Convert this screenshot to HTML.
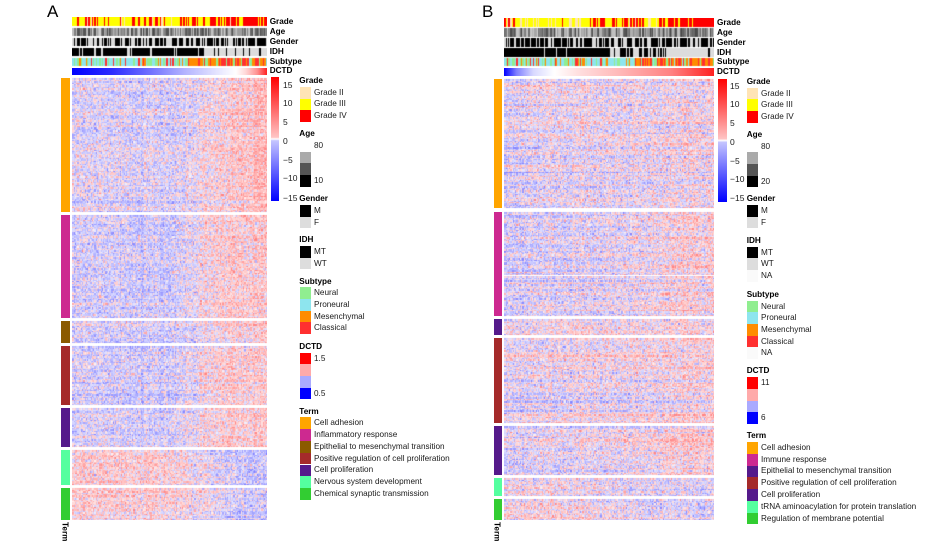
<!DOCTYPE html>
<html><head><meta charset="utf-8">
<style>
html,body{margin:0;padding:0;background:#fff;}
body{width:948px;height:553px;position:relative;overflow:hidden;font-family:"Liberation Sans",Arial,sans-serif;}
.a{position:absolute;}
.t{position:absolute;font-size:8.2px;line-height:10px;color:#1a1a1a;white-space:nowrap;}
.b{font-weight:bold;color:#000;}
.k{position:absolute;font-size:8.5px;line-height:10px;color:#1a1a1a;white-space:nowrap;}
.fa{position:absolute;left:72px;width:195px;background:linear-gradient(to right,#c4c4fc 0%,#c4c4fc 58%,#f6c0c6 78%,#ffb4b4 100%);}
.fa2{position:absolute;left:72px;width:195px;background:linear-gradient(to right,#ffc0c0 0%,#f8c4cc 55%,#c4c4fc 80%,#b8b8ff 100%);}
.fb{position:absolute;left:504px;width:210px;background:linear-gradient(to right,#c8c8fa 0%,#d8ccf0 60%,#f2c4cc 100%);}
</style></head><body>

<div class="a" style="left:47px;top:1.5px;font-size:17px;line-height:20px;">A</div>
<div class="a" style="left:482px;top:1.5px;font-size:17px;line-height:20px;">B</div>

<!-- ============ PANEL A ============ -->
<div class="fa" style="top:78px;height:134px"></div>
<div class="fa" style="top:215px;height:103px"></div>
<div class="fa" style="top:321px;height:22px"></div>
<div class="fa" style="top:346px;height:59px"></div>
<div class="fa" style="top:408px;height:39px"></div>
<div class="fa2" style="top:450px;height:35px"></div>
<div class="fa2" style="top:488px;height:32px"></div>
<canvas id="ca" class="a" width="195" height="503" style="left:72px;top:17px;width:195px;height:503px;"></canvas>
<div class="a" style="left:72px;top:67.7px;width:195px;height:7.5px;background:linear-gradient(to right,#0000ff 0%,#2a2aff 20%,#7070ff 40%,#b4b4ff 58%,#e6e6ff 75%,#ffffff 84%,#ffd8d8 89%,#ff9090 95%,#ff2020 100%);"></div>

<div class="t b" style="left:269.7px;top:16.5px;">Grade</div>
<div class="t b" style="left:269.7px;top:26.8px;">Age</div>
<div class="t b" style="left:269.7px;top:36.8px;">Gender</div>
<div class="t b" style="left:269.7px;top:46.8px;">IDH</div>
<div class="t b" style="left:269.7px;top:56.7px;">Subtype</div>
<div class="t b" style="left:269.7px;top:66.3px;">DCTD</div>

<div class="a" style="left:61px;top:78px;width:8.5px;height:134px;background:#ffa500"></div>
<div class="a" style="left:61px;top:215px;width:8.5px;height:103px;background:#cd2990"></div>
<div class="a" style="left:61px;top:321px;width:8.5px;height:22px;background:#8b5a00"></div>
<div class="a" style="left:61px;top:346px;width:8.5px;height:59px;background:#a52a2a"></div>
<div class="a" style="left:61px;top:408px;width:8.5px;height:39px;background:#551a8b"></div>
<div class="a" style="left:61px;top:450px;width:8.5px;height:35px;background:#54ff9f"></div>
<div class="a" style="left:61px;top:488px;width:8.5px;height:32px;background:#32cd32"></div>
<div class="a" style="left:60.5px;top:521.5px;font-size:8.2px;font-weight:bold;line-height:8px;writing-mode:vertical-rl;">Term</div>

<div class="a" style="left:271px;top:77.3px;width:8px;height:123.4px;background:linear-gradient(to bottom,#ff0000 0%,#ffc4c4 48.6%,#ffffff 50%,#c4c4ff 51.4%,#0000ff 100%);"></div>
<div class="k" style="left:283px;top:80px;">15</div>
<div class="k" style="left:283px;top:98.3px;">10</div>
<div class="k" style="left:283px;top:117.3px;">5</div>
<div class="k" style="left:283px;top:136px;">0</div>
<div class="k" style="left:283px;top:154.5px;">−5</div>
<div class="k" style="left:283px;top:173.3px;">−10</div>
<div class="k" style="left:283px;top:192.7px;">−15</div>

<div class="t b" style="left:299.3px;top:76px;">Grade</div>
<div class="a" style="left:299.5px;top:87.3px;width:11.5px;height:11.4px;background:#ffe4b5"></div>
<div class="a" style="left:299.5px;top:98.7px;width:11.5px;height:11.4px;background:#ffff00"></div>
<div class="a" style="left:299.5px;top:110px;width:11.5px;height:11.7px;background:#ff0000"></div>
<div class="t" style="left:314px;top:88px;">Grade II</div>
<div class="t" style="left:314px;top:99.3px;">Grade III</div>
<div class="t" style="left:314px;top:111px;">Grade IV</div>

<div class="t b" style="left:299.3px;top:129px;">Age</div>
<div class="t" style="left:314px;top:141px;">80</div>
<div class="a" style="left:299.5px;top:151.7px;width:11.5px;height:11.6px;background:#aaaaaa"></div>
<div class="a" style="left:299.5px;top:163.3px;width:11.5px;height:11.7px;background:#555555"></div>
<div class="a" style="left:299.5px;top:175px;width:11.5px;height:11.7px;background:#000000"></div>
<div class="t" style="left:314px;top:176px;">10</div>

<div class="t b" style="left:299.3px;top:194px;">Gender</div>
<div class="a" style="left:299.5px;top:205px;width:11.5px;height:11.7px;background:#000"></div>
<div class="a" style="left:299.5px;top:216.7px;width:11.5px;height:11.6px;background:#dddddd"></div>
<div class="t" style="left:314px;top:206px;">M</div>
<div class="t" style="left:314px;top:217.5px;">F</div>

<div class="t b" style="left:299.3px;top:235px;">IDH</div>
<div class="a" style="left:299.5px;top:246px;width:11.5px;height:11.7px;background:#000"></div>
<div class="a" style="left:299.5px;top:257.7px;width:11.5px;height:11.6px;background:#dddddd"></div>
<div class="t" style="left:314px;top:247px;">MT</div>
<div class="t" style="left:314px;top:258.5px;">WT</div>

<div class="t b" style="left:299.3px;top:276.7px;">Subtype</div>
<div class="a" style="left:299.5px;top:287.3px;width:11.5px;height:11.7px;background:#90ee90"></div>
<div class="a" style="left:299.5px;top:299px;width:11.5px;height:11.7px;background:#8ee5ee"></div>
<div class="a" style="left:299.5px;top:310.7px;width:11.5px;height:11.6px;background:#ff8c00"></div>
<div class="a" style="left:299.5px;top:322.3px;width:11.5px;height:11.7px;background:#ff3030"></div>
<div class="t" style="left:314px;top:288.2px;">Neural</div>
<div class="t" style="left:314px;top:299.8px;">Proneural</div>
<div class="t" style="left:314px;top:311.5px;">Mesenchymal</div>
<div class="t" style="left:314px;top:323.2px;">Classical</div>

<div class="t b" style="left:299.3px;top:341.7px;">DCTD</div>
<div class="a" style="left:299.5px;top:352.7px;width:11.5px;height:11.6px;background:#ff0000"></div>
<div class="a" style="left:299.5px;top:364.3px;width:11.5px;height:11.7px;background:#ffaaaa"></div>
<div class="a" style="left:299.5px;top:376px;width:11.5px;height:11.7px;background:#aaaaff"></div>
<div class="a" style="left:299.5px;top:387.7px;width:11.5px;height:11.6px;background:#0000ff"></div>
<div class="t" style="left:314px;top:353.7px;">1.5</div>
<div class="t" style="left:314px;top:389.3px;">0.5</div>

<div class="t b" style="left:299.3px;top:406.7px;">Term</div>
<div class="a" style="left:299.5px;top:417.3px;width:11.5px;height:11.8px;background:#ffa500"></div>
<div class="a" style="left:299.5px;top:429.1px;width:11.5px;height:11.8px;background:#cd2990"></div>
<div class="a" style="left:299.5px;top:440.9px;width:11.5px;height:11.8px;background:#8b5a00"></div>
<div class="a" style="left:299.5px;top:452.7px;width:11.5px;height:11.8px;background:#a52a2a"></div>
<div class="a" style="left:299.5px;top:464.5px;width:11.5px;height:11.8px;background:#551a8b"></div>
<div class="a" style="left:299.5px;top:476.3px;width:11.5px;height:11.8px;background:#54ff9f"></div>
<div class="a" style="left:299.5px;top:488.1px;width:11.5px;height:11.8px;background:#32cd32"></div>
<div class="t" style="left:314px;top:418.2px;">Cell adhesion</div>
<div class="t" style="left:314px;top:430px;">Inflammatory response</div>
<div class="t" style="left:314px;top:441.8px;">Epithelial to mesenchymal transition</div>
<div class="t" style="left:314px;top:453.6px;">Positive regulation of cell proliferation</div>
<div class="t" style="left:314px;top:465.4px;">Cell proliferation</div>
<div class="t" style="left:314px;top:477.2px;">Nervous system development</div>
<div class="t" style="left:314px;top:489px;">Chemical synaptic transmission</div>

<!-- ============ PANEL B ============ -->
<div class="fb" style="top:79px;height:129px"></div>
<div class="fb" style="top:212px;height:63px"></div>
<div class="fb" style="top:276px;height:40px"></div>
<div class="fb" style="top:319px;height:16px"></div>
<div class="fb" style="top:338px;height:85px"></div>
<div class="fb" style="top:426px;height:49px"></div>
<div class="fb" style="top:478px;height:18px"></div>
<div class="fb" style="top:499px;height:21px"></div>
<canvas id="cb" class="a" width="210" height="502" style="left:504px;top:18px;width:210px;height:502px;"></canvas>
<div class="a" style="left:504px;top:68.3px;width:210px;height:7.7px;background:linear-gradient(to right,#0000ff 0%,#8080ff 6%,#d8d8ff 14%,#ffffff 24%,#ffe0e0 35%,#ffb8b8 55%,#ff8080 80%,#ff2020 100%);"></div>

<div class="t b" style="left:717px;top:17.5px;">Grade</div>
<div class="t b" style="left:717px;top:27.5px;">Age</div>
<div class="t b" style="left:717px;top:37.5px;">Gender</div>
<div class="t b" style="left:717px;top:47.5px;">IDH</div>
<div class="t b" style="left:717px;top:57.3px;">Subtype</div>
<div class="t b" style="left:717px;top:67.2px;">DCTD</div>

<div class="a" style="left:493.5px;top:79px;width:8px;height:129px;background:#ffa500"></div>
<div class="a" style="left:493.5px;top:212px;width:8px;height:104px;background:#cd2990"></div>
<div class="a" style="left:493.5px;top:319px;width:8px;height:16px;background:#551a8b"></div>
<div class="a" style="left:493.5px;top:338px;width:8px;height:85px;background:#a52a2a"></div>
<div class="a" style="left:493.5px;top:426px;width:8px;height:49px;background:#551a8b"></div>
<div class="a" style="left:493.5px;top:478px;width:8px;height:18px;background:#54ff9f"></div>
<div class="a" style="left:493.5px;top:499px;width:8px;height:21px;background:#32cd32"></div>
<div class="a" style="left:492.5px;top:522px;font-size:8.2px;font-weight:bold;line-height:8px;writing-mode:vertical-rl;">Term</div>

<div class="a" style="left:718.3px;top:79px;width:8.7px;height:122.7px;background:linear-gradient(to bottom,#ff0000 0%,#ffc4c4 48.6%,#ffffff 50%,#c4c4ff 51.4%,#0000ff 100%);"></div>
<div class="k" style="left:730px;top:80.7px;">15</div>
<div class="k" style="left:730px;top:99.3px;">10</div>
<div class="k" style="left:730px;top:118.3px;">5</div>
<div class="k" style="left:730px;top:136.7px;">0</div>
<div class="k" style="left:730px;top:155.7px;">−5</div>
<div class="k" style="left:730px;top:174.3px;">−10</div>
<div class="k" style="left:730px;top:193px;">−15</div>

<div class="t b" style="left:746.7px;top:76.7px;">Grade</div>
<div class="a" style="left:746.7px;top:88px;width:11.7px;height:11.3px;background:#ffe4b5"></div>
<div class="a" style="left:746.7px;top:99.3px;width:11.7px;height:11.7px;background:#ffff00"></div>
<div class="a" style="left:746.7px;top:111px;width:11.7px;height:11.7px;background:#ff0000"></div>
<div class="t" style="left:761px;top:88.7px;">Grade II</div>
<div class="t" style="left:761px;top:100.2px;">Grade III</div>
<div class="t" style="left:761px;top:111.9px;">Grade IV</div>

<div class="t b" style="left:746.7px;top:130px;">Age</div>
<div class="t" style="left:761px;top:141.7px;">80</div>
<div class="a" style="left:746.7px;top:152.3px;width:11.7px;height:11.7px;background:#aaaaaa"></div>
<div class="a" style="left:746.7px;top:164px;width:11.7px;height:11.7px;background:#555555"></div>
<div class="a" style="left:746.7px;top:175.7px;width:11.7px;height:11.6px;background:#000000"></div>
<div class="t" style="left:761px;top:177px;">20</div>

<div class="t b" style="left:746.7px;top:194.3px;">Gender</div>
<div class="a" style="left:746.7px;top:205px;width:11.7px;height:11.7px;background:#000"></div>
<div class="a" style="left:746.7px;top:216.7px;width:11.7px;height:11.6px;background:#dddddd"></div>
<div class="t" style="left:761px;top:205.9px;">M</div>
<div class="t" style="left:761px;top:217.5px;">F</div>

<div class="t b" style="left:746.7px;top:236.3px;">IDH</div>
<div class="a" style="left:746.7px;top:246.7px;width:11.7px;height:11.6px;background:#000"></div>
<div class="a" style="left:746.7px;top:258.3px;width:11.7px;height:11.7px;background:#dddddd"></div>
<div class="a" style="left:746.7px;top:270px;width:11.7px;height:11.7px;background:#fafafa"></div>
<div class="t" style="left:761px;top:247.5px;">MT</div>
<div class="t" style="left:761px;top:259.2px;">WT</div>
<div class="t" style="left:761px;top:270.9px;">NA</div>

<div class="t b" style="left:746.7px;top:290px;">Subtype</div>
<div class="a" style="left:746.7px;top:300.7px;width:11.7px;height:11.6px;background:#90ee90"></div>
<div class="a" style="left:746.7px;top:312.3px;width:11.7px;height:11.7px;background:#8ee5ee"></div>
<div class="a" style="left:746.7px;top:324px;width:11.7px;height:11.7px;background:#ff8c00"></div>
<div class="a" style="left:746.7px;top:335.7px;width:11.7px;height:11.6px;background:#ff3030"></div>
<div class="a" style="left:746.7px;top:347.3px;width:11.7px;height:11.7px;background:#fafafa"></div>
<div class="t" style="left:761px;top:301.5px;">Neural</div>
<div class="t" style="left:761px;top:313.2px;">Proneural</div>
<div class="t" style="left:761px;top:324.9px;">Mesenchymal</div>
<div class="t" style="left:761px;top:336.5px;">Classical</div>
<div class="t" style="left:761px;top:348.2px;">NA</div>

<div class="t b" style="left:746.7px;top:366px;">DCTD</div>
<div class="a" style="left:746.7px;top:377.3px;width:11.7px;height:11.7px;background:#ff0000"></div>
<div class="a" style="left:746.7px;top:389px;width:11.7px;height:11.7px;background:#ffaaaa"></div>
<div class="a" style="left:746.7px;top:400.7px;width:11.7px;height:11.6px;background:#aaaaff"></div>
<div class="a" style="left:746.7px;top:412.3px;width:11.7px;height:11.7px;background:#0000ff"></div>
<div class="t" style="left:761px;top:378.3px;">11</div>
<div class="t" style="left:761px;top:412.7px;">6</div>

<div class="t b" style="left:746.7px;top:431px;">Term</div>
<div class="a" style="left:746.7px;top:442px;width:11.7px;height:11.8px;background:#ffa500"></div>
<div class="a" style="left:746.7px;top:453.8px;width:11.7px;height:11.8px;background:#cd2990"></div>
<div class="a" style="left:746.7px;top:465.5px;width:11.7px;height:11.8px;background:#551a8b"></div>
<div class="a" style="left:746.7px;top:477.3px;width:11.7px;height:11.8px;background:#a52a2a"></div>
<div class="a" style="left:746.7px;top:489px;width:11.7px;height:11.8px;background:#551a8b"></div>
<div class="a" style="left:746.7px;top:500.8px;width:11.7px;height:11.8px;background:#54ff9f"></div>
<div class="a" style="left:746.7px;top:512.6px;width:11.7px;height:11.8px;background:#32cd32"></div>
<div class="t" style="left:761px;top:442.9px;">Cell adhesion</div>
<div class="t" style="left:761px;top:454.6px;">Immune response</div>
<div class="t" style="left:761px;top:466.4px;">Epithelial to mesenchymal transition</div>
<div class="t" style="left:761px;top:478.2px;">Positive regulation of cell proliferation</div>
<div class="t" style="left:761px;top:489.9px;">Cell proliferation</div>
<div class="t" style="left:761px;top:501.7px;">tRNA aminoacylation for protein translation</div>
<div class="t" style="left:761px;top:513.5px;">Regulation of membrane potential</div>

<script>
(function(){
function R0(seed){var s=(seed>>>0)||1;return function(){s^=s<<13;s>>>=0;s^=s>>>17;s^=s<<5;s>>>=0;return s/4294967296;};}
function gs(R){var u=R()||1e-9,v=R();return Math.sqrt(-2*Math.log(u))*Math.cos(6.283185*v);}
function ramp(f,a,b,v1,v2){return f<=a?v1:f>=b?v2:v1+(v2-v1)*(f-a)/(b-a);}
function hx(h){return [parseInt(h.substr(1,2),16),parseInt(h.substr(3,2),16),parseInt(h.substr(5,2),16)];}
var RED=hx('#ff0000'),YEL=hx('#ffff00'),MOC=hx('#ffe4b5'),BLK=[0,0,0],LG=hx('#dcdcdc'),
    CY=hx('#8ee5ee'),GR=hx('#90ee90'),OR=hx('#ff8c00'),CR=hx('#ff3030');
function draw(id,W,H,ncol,ann,blocks,rh,seed){
  var cv=document.getElementById(id);if(!cv||!cv.getContext)return;var ctx=cv.getContext('2d');
  var img=ctx.createImageData(W,H),d=img.data,R=R0(seed);
  function put(x,y,c){var i=(y*W+x)*4;d[i]=c[0];d[i+1]=c[1];d[i+2]=c[2];d[i+3]=255;}
  var colOf=[],x,y,c,r;for(x=0;x<W;x++)colOf[x]=Math.floor(x*ncol/W);
  ann.forEach(function(a){var cols=[];for(c=0;c<ncol;c++)cols[c]=a.fn((c+0.5)/ncol,R);
    for(y=a.y0;y<a.y1;y++)for(x=0;x<W;x++)put(x,y,cols[colOf[x]]);});
  var ce=[];for(c=0;c<ncol;c++)ce[c]=gs(R)*0.18;
  blocks.forEach(function(b){var h=b.y1-b.y0,n=Math.max(1,Math.round(h/rh)),rows=[];
    for(r=0;r<n;r++){var re=gs(R)*b.rs,sl=gs(R)*(b.sl||0),row=[];
      for(c=0;c<ncol;c++){var f=(c+0.5)/ncol;var s=b.m(f)+re+sl*(f-0.5)+ce[c]+gs(R)*b.nz;
        var t=Math.min(1,Math.abs(s)/2.3);var g=Math.round(226-96*t);
        if(R()<0.06){g=Math.min(240,g+25);}
        row[c]=s>=0?[255,g,g]:[g,g,255];}
      rows.push(row);}
    for(y=b.y0;y<b.y1;y++){r=Math.min(n-1,Math.floor((y-b.y0)*n/h));var rw=rows[r];
      for(x=0;x<W;x++)put(x,y,rw[colOf[x]]);}});
  ctx.putImageData(img,0,0);
}
function gray(f,R){var v=Math.round(70+R()*140);return [v,v,v];}
draw('ca',195,503,160,[
 {y0:0,y1:9,fn:function(f,R){var u=R(),pr=f<0.55?0.2:f<0.7?0.45:0.8,pm=f<0.55?0.12:0.06;return u<pr?RED:u<pr+pm?MOC:YEL;}},
 {y0:11,y1:19,fn:gray},
 {y0:21,y1:29,fn:function(f,R){return R()<0.55?BLK:LG;}},
 {y0:31,y1:39,fn:function(f,R){return R()<(f<0.67?0.85:0.12)?BLK:LG;}},
 {y0:41,y1:49,fn:function(f,R){var u=R();if(f<0.6)return u<0.55?CY:u<0.8?GR:u<0.92?OR:CR;return u<0.45?OR:u<0.8?CR:u<0.9?CY:GR;}}
],[
 {y0:61,y1:195,rs:0.22,nz:0.7,m:function(f){return ramp(f,0.55,0.85,-0.35,0.7)+(f>0.93?0.3:0);}},
 {y0:198,y1:301,rs:0.22,nz:0.7,m:function(f){return ramp(f,0.5,0.8,-0.55,0.55);}},
 {y0:304,y1:326,rs:0.22,nz:0.7,m:function(f){return ramp(f,0.55,0.85,-0.45,0.55);}},
 {y0:329,y1:388,rs:0.22,nz:0.7,m:function(f){return ramp(f,0.5,0.78,-0.5,0.6);}},
 {y0:391,y1:430,rs:0.22,nz:0.7,m:function(f){return ramp(f,0.5,0.8,-0.45,0.55);}},
 {y0:433,y1:468,rs:0.22,nz:0.7,m:function(f){return ramp(f,0.5,0.85,0.5,-0.7);}},
 {y0:471,y1:503,rs:0.22,nz:0.7,m:function(f){return ramp(f,0.5,0.85,0.45,-0.6);}}
],1.4,12345);
draw('cb',210,502,175,[
 {y0:0,y1:9,fn:function(f,R){var u=R();if(f<0.4)return u<0.05?RED:u<0.28?MOC:YEL;if(f<0.75)return u<0.45?RED:u<0.52?MOC:YEL;return u<0.8?RED:YEL;}},
 {y0:10,y1:19,fn:gray},
 {y0:20,y1:29,fn:function(f,R){return R()<0.55?BLK:LG;}},
 {y0:30,y1:39,fn:function(f,R){return R()<(f<0.5?0.95:f<0.77?0.35:0.02)?BLK:LG;}},
 {y0:40,y1:48,fn:function(f,R){var u=R();if(f<0.62)return u<0.55?CY:u<0.85?GR:u<0.93?OR:CR;return u<0.5?OR:u<0.85?CR:u<0.93?CY:GR;}}
],[
 {y0:61,y1:190,rs:0.35,sl:0.6,nz:0.75,m:function(f){return ramp(f,0,1,-0.2,0.2);}},
 {y0:194,y1:257,rs:0.3,sl:0.4,nz:0.75,m:function(f){return ramp(f,0.3,0.9,-0.35,0.45);}},
 {y0:258,y1:298,rs:0.3,sl:0.4,nz:0.75,m:function(f){return ramp(f,0.3,0.9,-0.3,0.4);}},
 {y0:301,y1:317,rs:0.3,sl:0.4,nz:0.75,m:function(f){return ramp(f,0,1,-0.05,0.15);}},
 {y0:320,y1:405,rs:0.35,sl:0.5,nz:0.75,m:function(f){return ramp(f,0.2,1,-0.2,0.25);}},
 {y0:408,y1:457,rs:0.3,sl:0.4,nz:0.75,m:function(f){return ramp(f,0.3,0.9,-0.3,0.4);}},
 {y0:460,y1:478,rs:0.3,sl:0.3,nz:0.75,m:function(f){return ramp(f,0,1,0.15,-0.25);}},
 {y0:481,y1:502,rs:0.3,sl:0.3,nz:0.75,m:function(f){return ramp(f,0.2,1,0.2,-0.45);}}
],1.3,67890);
})();
</script>
</body></html>
